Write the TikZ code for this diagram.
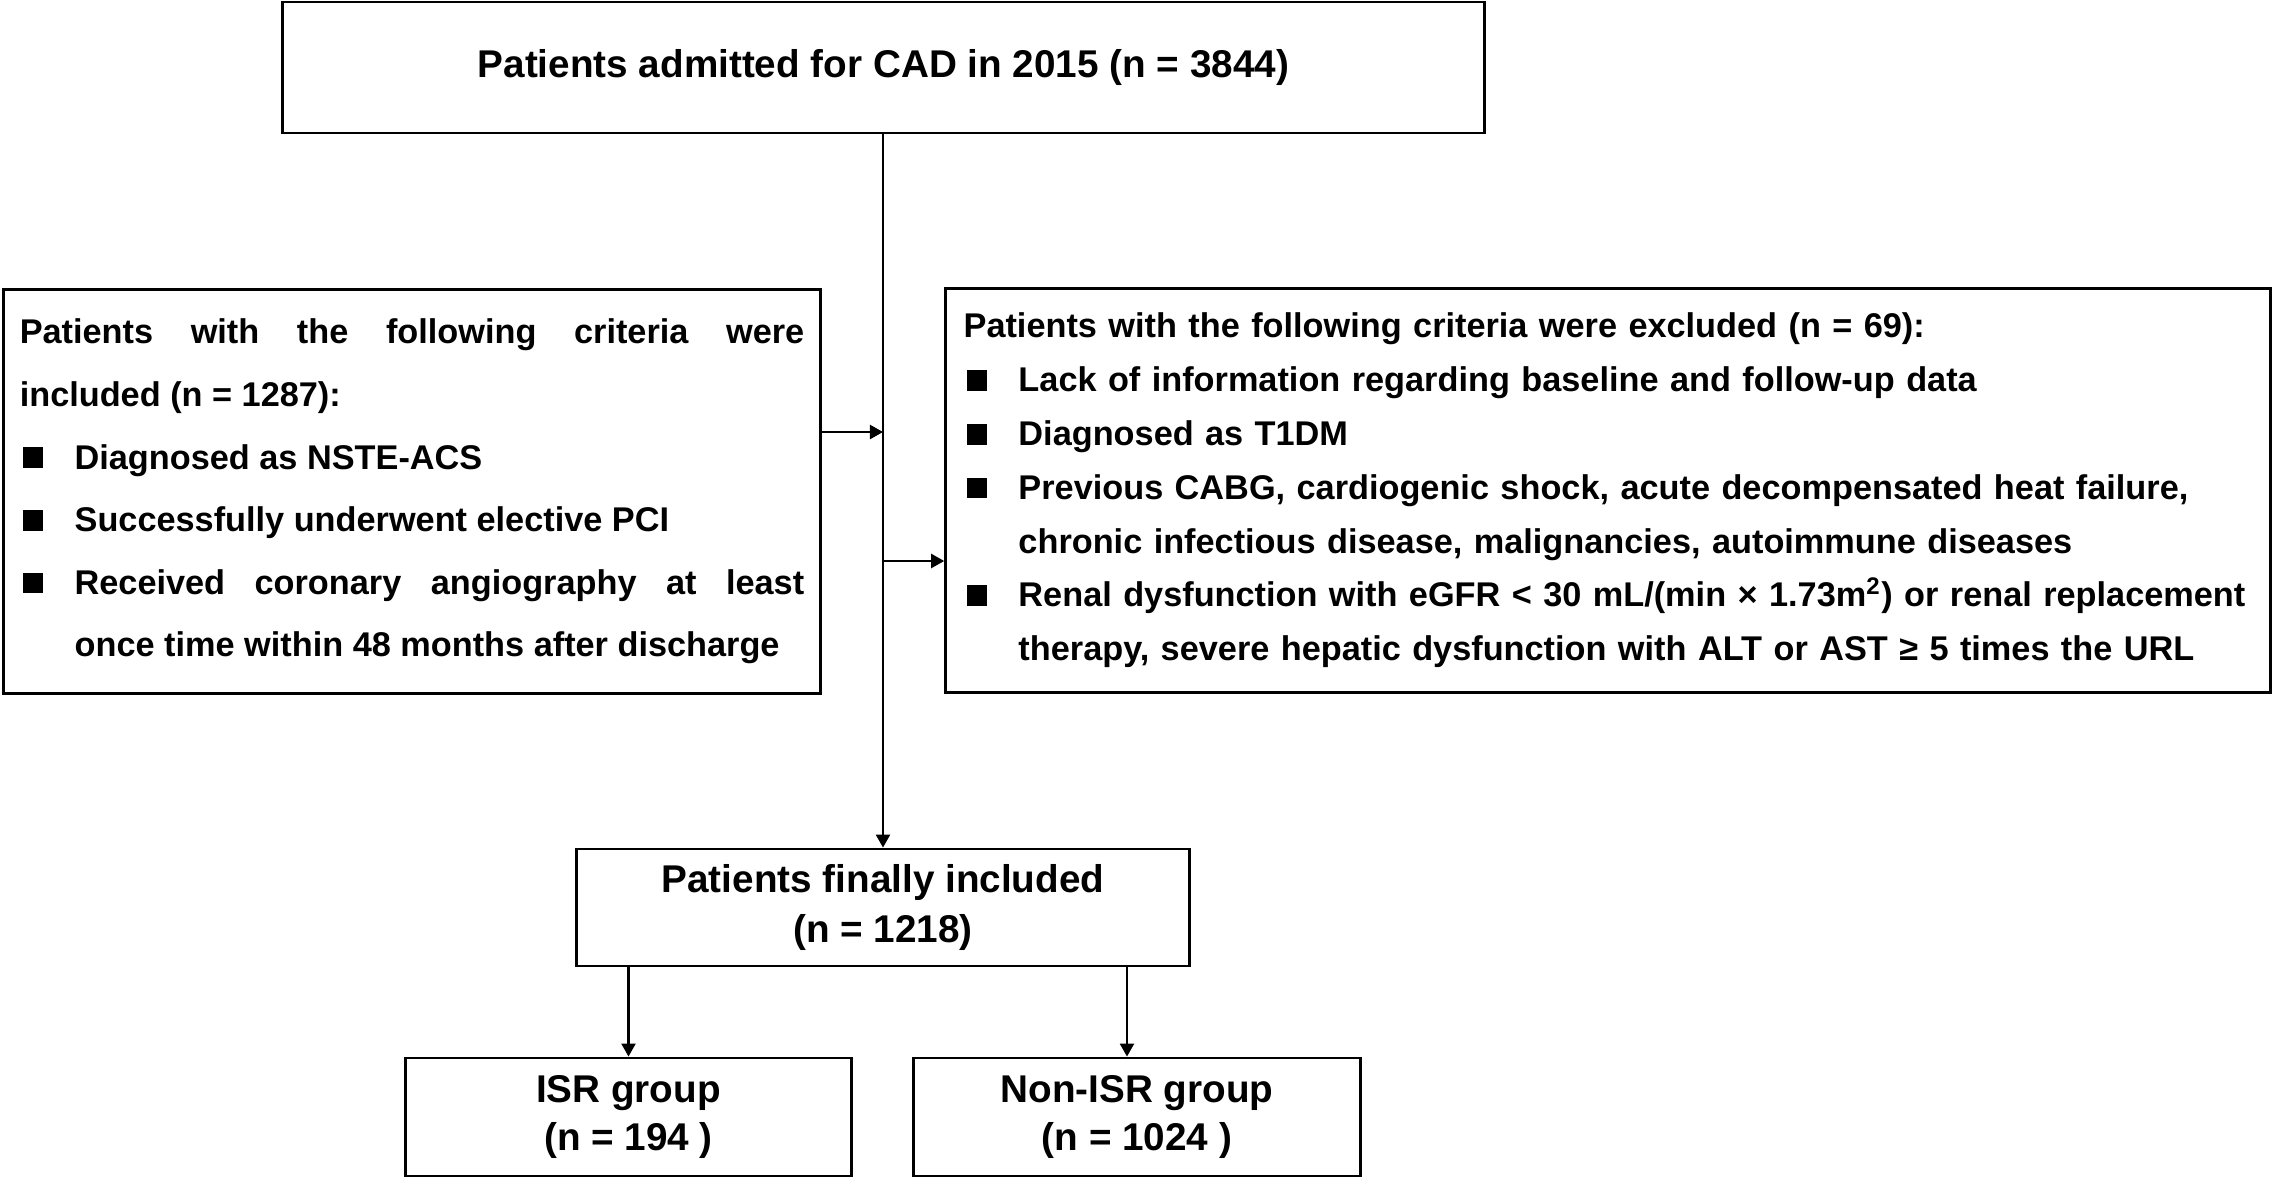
\documentclass[tikz,border=0pt]{standalone}
\usepackage{fontspec}
\setmainfont{Liberation Sans}
\usetikzlibrary{arrows.meta,positioning}

\newcommand{\critem}[1]{\par\noindent\hangindent=15.6pt\hangafter=1\makebox[15.6pt][l]{\hspace{1pt}\rule[0.03em]{0.58em}{0.6em}}#1}

\begin{document}
\begin{tikzpicture}[x=0.01cm,y=-0.01cm,
  box/.style={draw,line width=0.8pt,align=center,font=\bfseries\fontsize{11}{14.2}\selectfont},
  listbox/.style={draw,line width=0.8pt,minimum height=4.03cm},
  arr/.style={line width=0.6pt,-{Triangle[length=3.7pt,width=4pt]}}]
\useasboundingbox (0,0) rectangle (2274,1178);
% boxes
\node[box,minimum width=12.01cm,minimum height=1.31cm] (top) at (883.5,67.5) {Patients admitted for CAD in 2015 (n = 3844)};
\node[listbox,text width=7.84cm,inner xsep=0.16cm,align=justify,font=\bfseries\fontsize{9.75}{17.8}\selectfont] (incl) at (412,491.5) {%
Patients with the following criteria were\linebreak included (n = 1287):
\critem{Diagnosed as NSTE-ACS}
\critem{Successfully underwent elective PCI}
\critem{Received coronary angiography at least\linebreak once time within 48 months after discharge}\par};
\node[listbox,text width=12.88cm,inner xsep=0.18cm,align=left,font=\bfseries\fontsize{9.75}{15.3}\selectfont] (excl) at (1608,490.5) {%
Patients with the following criteria were excluded (n = 69):
\critem{Lack of information regarding baseline and follow-up data}
\critem{Diagnosed as T1DM}
\critem{Previous CABG, cardiogenic shock, acute decompensated heat failure,\newline chronic infectious disease, malignancies, autoimmune diseases}
\critem{Renal dysfunction with eGFR < 30 mL/(min × 1.73m\textsuperscript{2}) or renal replacement\newline therapy, severe hepatic dysfunction with ALT or AST ≥ 5 times the URL}\par};
\node[box,minimum width=6.12cm,minimum height=1.17cm] (final) at (883,907.5) {Patients finally included\\(n = 1218)};
\node[box,minimum width=4.45cm,minimum height=1.18cm,font=\bfseries\fontsize{11}{13.7}\selectfont] (isr) at (628.5,1117) {ISR group\\(n = 194 )};
\node[box,minimum width=4.46cm,minimum height=1.18cm,font=\bfseries\fontsize{11}{13.7}\selectfont] (nonisr) at (1137,1117) {Non-ISR group\\(n = 1024 )};
% connectors
\coordinate (j1) at (883,432);
\coordinate (j2) at (883,561);
\coordinate (s2) at (1127,0);
\draw[arr] (final.north |- top.south) -- (final.north);
\draw[arr] (incl.east |- j1) -- (j1);
\draw[arr] (j2) -- (excl.west |- j2);
\draw[arr] (final.south -| isr.north) -- (isr.north);
\draw[arr] (final.south -| s2) -- (nonisr.north -| s2);
\end{tikzpicture}
\end{document}
